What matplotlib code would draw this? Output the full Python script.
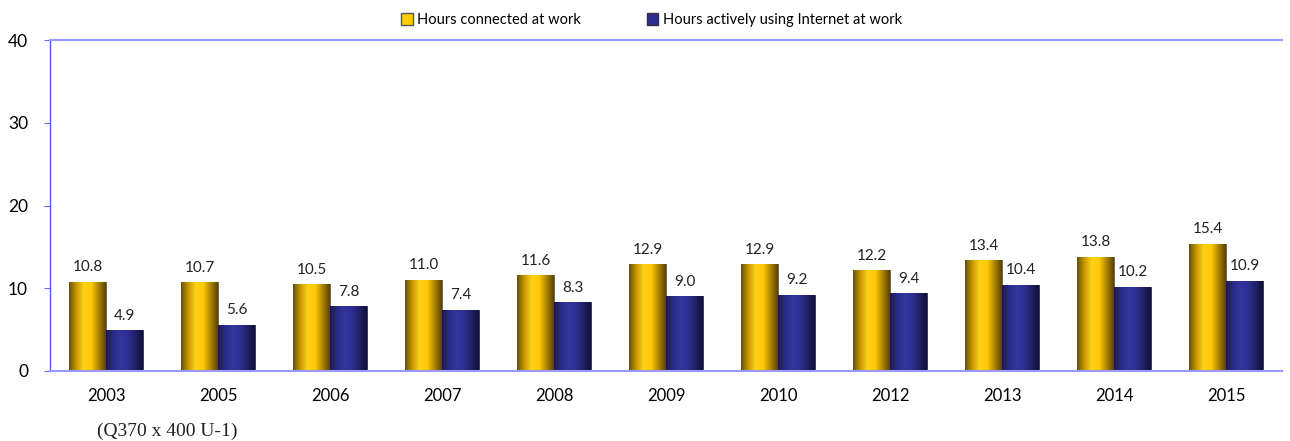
import numpy as np
import matplotlib
matplotlib.use('Agg')
import matplotlib.pyplot as plt
from matplotlib.colors import LinearSegmentedColormap
from matplotlib.patches import Patch

years = ['2003', '2005', '2006', '2007', '2008', '2009', '2010', '2012', '2013', '2014', '2015']
connected = [10.8, 10.7, 10.5, 11.0, 11.6, 12.9, 12.9, 12.2, 13.4, 13.8, 15.4]
active = [4.9, 5.6, 7.8, 7.4, 8.3, 9.0, 9.2, 9.4, 10.4, 10.2, 10.9]

plt.rcParams['font.family'] = ['Lato', 'DejaVu Sans']

# cylinder-like shading
gold_cm = LinearSegmentedColormap.from_list('gold', ['#6b5200', '#c99a00', '#ffd21a', '#ffcc00', '#b08600', '#5a4400'])
blue_cm = LinearSegmentedColormap.from_list('blue', ['#1a1a5c', '#2b2b8a', '#34349e', '#2e2e92', '#20206a', '#10103a'])

fig = plt.figure(figsize=(12.9, 4.41), dpi=100)
ax = fig.add_axes([0.039, 0.159, 0.955, 0.75])

x = np.arange(len(years))
w = 0.33
b1 = ax.bar(x - w / 2, connected, w, color='#ffcc00', edgecolor='#555555', linewidth=0.6, zorder=2)
b2 = ax.bar(x + w / 2, active, w, color='#2e2e92', edgecolor='#333333', linewidth=0.6, zorder=2)

grad = np.linspace(0, 1, 64).reshape(1, -1)
for bars, cm in ((b1, gold_cm), (b2, blue_cm)):
    for r in bars:
        x0, y0 = r.get_x(), r.get_y()
        im = ax.imshow(grad, cmap=cm, aspect='auto', zorder=2.5,
                       extent=(x0, x0 + r.get_width(), y0, y0 + r.get_height()))
        im.set_clip_path(r)

for r, v in zip(b1, connected):
    ax.text(r.get_x() + r.get_width() / 2, v + 0.9, f'{v:.1f}', ha='center', va='bottom', fontsize=11, color='#222222')
for r, v in zip(b2, active):
    ax.text(r.get_x() + r.get_width() / 2, v + 0.9, f'{v:.1f}', ha='center', va='bottom', fontsize=11, color='#222222')

ax.set_xlim(-0.5, len(years) - 0.5)
ax.set_ylim(0, 40)
ax.set_yticks([0, 10, 20, 30, 40])
ax.set_xticks(x)
ax.set_xticklabels(years, fontsize=12)
ax.tick_params(axis='y', labelsize=12.5, length=4, color='#6666ff', direction='out', pad=12)
ax.tick_params(axis='x', length=0, pad=12)

ax.spines['right'].set_visible(False)
ax.spines['left'].set_color('#5555ff')
ax.spines['left'].set_linewidth(1.0)
ax.spines['bottom'].set_color('#9999ff')
ax.spines['bottom'].set_linewidth(1.5)
ax.spines['top'].set_color('#9999ff')
ax.spines['top'].set_linewidth(1.5)

handles = [Patch(facecolor='#ffcc00', edgecolor='#555555', label='Hours connected at work'),
           Patch(facecolor='#2e2e92', edgecolor='#333333', label='Hours actively using Internet at work')]
fig.legend(handles=handles, loc='upper center', bbox_to_anchor=(0.505, 1.0), ncol=2, frameon=False,
           fontsize=10.5, handlelength=0.8, handleheight=0.8, handletextpad=0.3, columnspacing=4.5)

fig.text(0.075, 0.012, '(Q370 x 400 U-1)', fontsize=14, family='Liberation Serif', color='#222222')

fig.savefig('out.png', dpi=100)
